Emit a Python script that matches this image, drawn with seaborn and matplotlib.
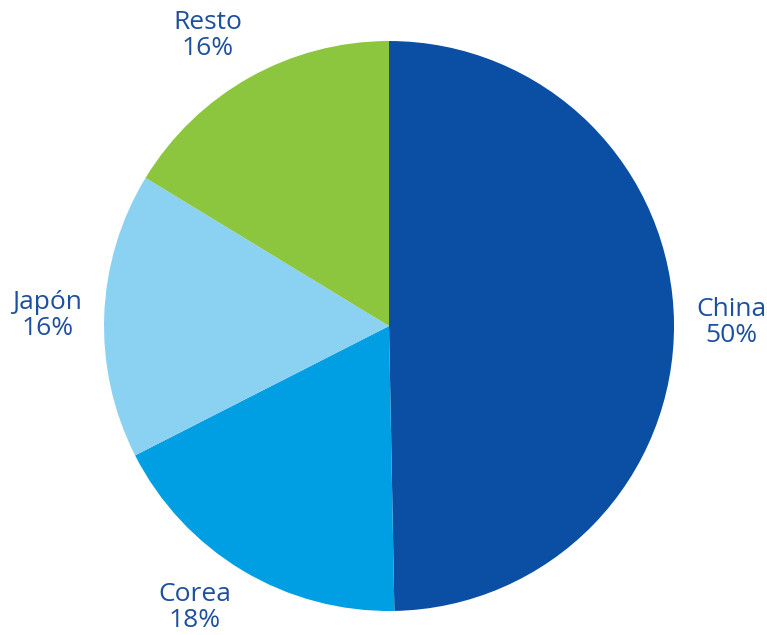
import matplotlib
matplotlib.use("Agg")
from matplotlib import pyplot as plt
import seaborn as sns
import numpy as np

labels = ["China", "Corea", "Japón", "Resto"]
shares = [49.7, 17.8, 16.2, 16.3]
shown = ["50%", "18%", "16%", "16%"]
colors = ["#0A4FA3", "#009FE3", "#8BD1F2", "#8CC63F"]
text_color = "#1D4F9F"
# small angular nudges (degrees) for the labels
nudge = [0, -3.7, 0.4, 2.6]

sns.set_theme(style="white")
plt.rcParams['font.family'] = ['Open Sans', 'DejaVu Sans']

fig = plt.figure(figsize=(7.67, 6.35), dpi=100)
ax = fig.add_axes([0.1356, 0.0378, 0.7432, 0.8976])

wedges, texts = ax.pie(
    shares,
    labels=[f"{l}\n{s}" for l, s in zip(labels, shown)],
    colors=colors,
    startangle=90,
    counterclock=False,
    labeldistance=1.2,
    wedgeprops=dict(linewidth=0),
    textprops=dict(color=text_color, fontsize=19, linespacing=1.05),
)
for w, t, n in zip(wedges, texts, nudge):
    ang = np.deg2rad((w.theta1 + w.theta2) / 2 + n)
    t.set_position((1.2 * np.cos(ang), 1.2 * np.sin(ang)))
    t.set_horizontalalignment("center")
    t.set_verticalalignment("center")
    t.set_clip_on(False)

ax.set_xlim(-1, 1)
ax.set_ylim(-1, 1)
ax.set_aspect("equal")

fig.savefig("out.png", dpi=100)
